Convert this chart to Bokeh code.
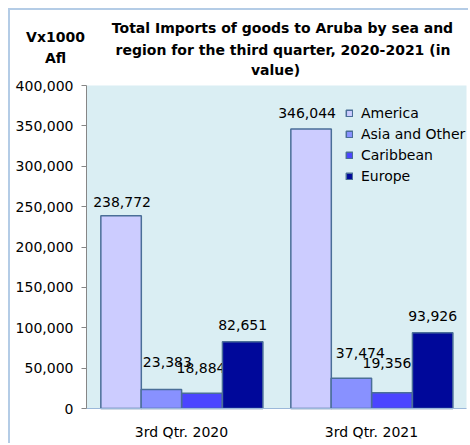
from bokeh.plotting import figure
from bokeh.models import (ColumnDataSource, Range1d, FixedTicker, NumeralTickFormatter,
                          Legend, BoxAnnotation)
from bokeh.core.properties import value
from bokeh.embed import file_html
from bokeh.resources import INLINE

# ---- data ----
categories = ["3rd Qtr. 2020", "3rd Qtr. 2021"]
series_names = ["America", "Asia and Other", "Caribbean", "Europe"]
america = [238772, 346044]
asia_other = [23383, 37474]
caribbean = [18884, 19356]
europe = [82651, 93926]
y_ticks = [0, 50000, 100000, 150000, 200000, 250000, 300000, 350000, 400000]
y_max = 400000
title_lines = ["Total Imports of goods to Aruba by sea and",
               "region for the third quarter, 2020-2021 (in",
               "value)"]
unit_lines = ["Vx1000", "Afl"]

# ---- styles / layout ----
colors = ["#CCCCFF", "#8891FF", "#4B45FF", "#00089A"]
offsets = [-0.318, -0.106, 0.108, 0.322]
bar_w = 0.213
label_dx = [[1, -4], [6, 9], [-1, -5], [0, 0]]
label_dy = [[-14, -16], [-28, -25], [-25, -30], [-17, -17]]

# pixel layout (window pixels) of the plot area
AREA_L, AREA_R, AREA_T, AREA_B = 86, 466, 85, 408
CANVAS_L, CANVAS_T, CANVAS_R, CANVAS_B = 10, 10, 470, 445
W, H = CANVAS_R - CANVAS_L, CANVAS_B - CANVAS_T
n_cat = len(categories)
px_per_x = (AREA_R - AREA_L) / n_cat
px_per_y = (AREA_B - AREA_T) / y_max

def sx(px):
    return (px - AREA_L) / px_per_x

def sy(py):
    return (AREA_B - py) / px_per_y

title_px = [(282, 27.5), (282.5, 49), (275, 69.5)]
unit_px = [(55, 36), (55, 57)]

series_values = [america, asia_other, caribbean, europe]

p = figure(x_range=Range1d(sx(CANVAS_L), sx(CANVAS_R)),
           y_range=Range1d(sy(CANVAS_B), sy(CANVAS_T)),
           width=W, height=H, output_backend="svg", toolbar_location=None,
           title=None, min_border_left=0, min_border_right=0,
           min_border_top=0, min_border_bottom=0)
p.background_fill_color = "white"
p.border_fill_color = "white"
p.outline_line_color = None
p.xgrid.grid_line_color = None
p.ygrid.grid_line_color = None

# plot-area background
p.add_layout(BoxAnnotation(left=0, right=n_cat, bottom=0, top=y_max,
                           fill_color="#DAEEF3", fill_alpha=1, line_color=None,
                           level="underlay"))

renderers = []
for i, name in enumerate(series_names):
    xs = [k + 0.5 + offsets[i] for k in range(n_cat)]
    src = ColumnDataSource({"x": xs, "top": series_values[i],
                            "t": ["{:,}".format(v) for v in series_values[i]],
                            "dx": label_dx[i], "dy": label_dy[i]})
    r = p.vbar(x="x", top="top", width=bar_w, source=src, fill_color=colors[i],
               line_color="#4A6E98", line_width=1.5)
    renderers.append((name, [r]))
    p.text(x="x", y="top", text="t", source=src, x_offset="dx", y_offset="dy",
           text_align="center", text_baseline="middle",
           text_font=value("DejaVu Sans"), text_font_size="14px", text_color="#000000")

# title and unit text
p.text(x=[sx(a) for a, b in title_px], y=[sy(b) for a, b in title_px], text=title_lines,
       text_align="center", text_baseline="middle",
       text_font=value("DejaVu Sans"), text_font_style="bold",
       text_font_size="14px", text_color="#000000")
p.text(x=[sx(a) for a, b in unit_px], y=[sy(b) for a, b in unit_px], text=unit_lines,
       text_align="center", text_baseline="middle",
       text_font=value("DejaVu Sans"), text_font_style="bold",
       text_font_size="14px", text_color="#000000")

legend = Legend(items=renderers, location=(335, 224 + (CANVAS_B - AREA_B)))
legend.background_fill_alpha = 0
legend.border_line_color = None
legend.padding = 0
legend.margin = 0
legend.spacing = 4
legend.glyph_width = 8
legend.glyph_height = 8
legend.label_height = 17
legend.label_standoff = 8
legend.label_text_font = "DejaVu Sans"
legend.label_text_font_size = "14px"
legend.label_text_color = "#000000"
p.add_layout(legend, "center")

# y axis drawn at the left edge of the plot area
p.yaxis.fixed_location = 0
p.yaxis.bounds = (0, y_max)
p.yaxis.ticker = FixedTicker(ticks=y_ticks)
p.yaxis.formatter = NumeralTickFormatter(format="0,0")
p.yaxis.axis_line_color = "#868686"
p.yaxis.major_tick_line_color = "#868686"
p.yaxis.major_tick_out = 5
p.yaxis.major_tick_in = 0
p.yaxis.minor_tick_line_color = None
p.yaxis.major_label_standoff = 8
p.yaxis.major_label_text_font = "DejaVu Sans"
p.yaxis.major_label_text_font_size = "14px"
p.yaxis.major_label_text_color = "#000000"

# x axis at y = 0: category labels
p.xaxis.fixed_location = 0
p.xaxis.bounds = (0, n_cat)
p.xaxis.ticker = FixedTicker(ticks=[k + 0.5 for k in range(n_cat)])
p.xaxis.major_label_overrides = {k + 0.5: c for k, c in enumerate(categories)}
p.xaxis.axis_line_color = "#9BB8DA"
p.xaxis.major_tick_line_color = None
p.xaxis.minor_tick_line_color = None
p.xaxis.major_label_standoff = 9
p.xaxis.major_label_text_font = "DejaVu Sans"
p.xaxis.major_label_text_font_size = "14px"
p.xaxis.major_label_text_color = "#000000"

p.styles = {"margin-left": "8px", "margin-top": "8px",
            "border-left": "2px solid #B4CCE6", "border-top": "2px solid #B4CCE6"}

open("out.html", "w").write(file_html(p, INLINE))
